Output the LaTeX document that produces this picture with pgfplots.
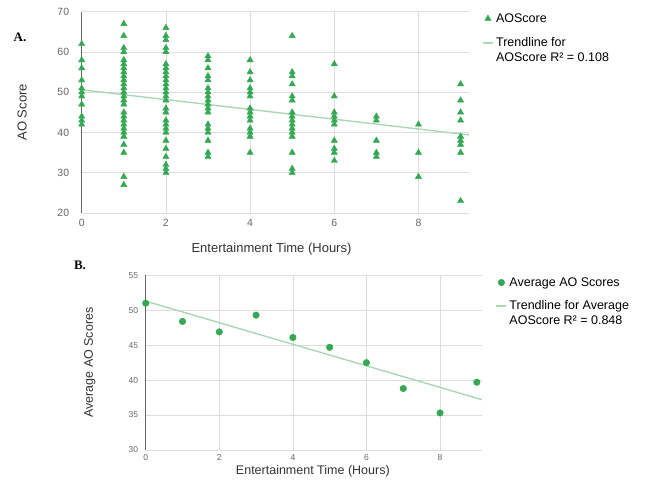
\documentclass[border=0pt]{standalone}
\usepackage{pgfplots}
\pgfplotsset{compat=1.18}
\usepackage{fontspec}
\setmainfont{Liberation Sans}
\newfontfamily\timesfont{Liberation Serif}
\definecolor{gmark}{HTML}{34A853}
\definecolor{gtrend}{HTML}{A9D8B2}
\definecolor{ggrid}{HTML}{DDDDDD}
\definecolor{gtick}{HTML}{666666}
\definecolor{gtitle}{HTML}{333333}
\pgfplotsset{
  markleg/.style={legend image code/.code={\draw[##1] plot coordinates {(5pt,0pt)};}},
  trendleg/.style={legend image code/.code={\draw[gtrend, line width=2.2pt] (0pt,7.5pt) -- (10pt,7.5pt);}},
}
\begin{document}
\begin{tikzpicture}
\useasboundingbox (0pt,0pt) rectangle (649pt,490pt);
% Panel A
\begin{axis}[
  at={(81.7pt,277pt)}, anchor=origin,
  scale only axis, width=387.3pt, height=201.3pt,
  xmin=0, xmax=9.2, ymin=20, ymax=70,
  xtick={0,2,4,6,8}, ytick={20,30,...,70},
  grid=major, major grid style={ggrid, line width=0.6pt},
  axis lines*=left,
  x axis line style={ggrid, line width=0.8pt},
  y axis line style={gtick, line width=0.9pt},
  tick style={draw=none},
  /pgf/number format/assume math mode=true,
  ticklabel style={font=\fontsize{10.5}{12}\selectfont, text=gtick},
  yticklabel style={xshift=-9pt},
  xticklabel style={yshift=-3pt},
  xlabel={Entertainment Time (Hours)},
  ylabel={AO Score},
  xlabel style={at={(axis description cs:0.49,-0.18)}, anchor=center, font=\fontsize{13}{15}\selectfont, text=gtitle},
  ylabel style={at={(axis description cs:-0.154,0.5)}, anchor=center, font=\fontsize{13}{15}\selectfont, text=gtitle},
  legend style={at={(axis description cs:1.025,1.012)}, anchor=north west, draw=none, fill=none,
    font=\fontsize{12.5}{15}\selectfont, cells={align=left, anchor=west}, row sep=10pt},
  legend cell align=left,
  clip=false,
]
\addplot[only marks, mark=triangle*, mark size=3.6pt, gmark, mark options={fill=gmark, draw=gmark}, markleg] coordinates {
(0,62)(0,58)(0,56)(0,53)(0,51)(0,50)(0,49)(0,47)(0,44)(0,43)(0,42)
(1,67)(1,64)(1,61)(1,60)(1,58)(1,57)(1,56)(1,55)(1,54)(1,53)(1,52)(1,51)(1,50)(1,49)(1,48)(1,47)(1,45)(1,44)(1,43)(1,42)(1,41)(1,40)(1,39)(1,37)(1,35)(1,29)(1,27)
(2,66)(2,64)(2,63)(2,61)(2,60)(2,57)(2,56)(2,55)(2,54)(2,53)(2,52)(2,51)(2,50)(2,49)(2,48)(2,46)(2,45)(2,43)(2,42)(2,41)(2,40)(2,38)(2,36)(2,34)(2,32)(2,31)(2,30)
(3,59)(3,58)(3,56)(3,54)(3,53)(3,51)(3,50)(3,49)(3,48)(3,47)(3,46)(3,45)(3,42)(3,41)(3,40)(3,38)(3,35)(3,34)
(4,58)(4,55)(4,53)(4,51)(4,50)(4,49)(4,46)(4,45)(4,44)(4,43)(4,41)(4,40)(4,39)(4,35)
(5,64)(5,55)(5,54)(5,52)(5,49)(5,48)(5,45)(5,44)(5,43)(5,42)(5,41)(5,40)(5,39)(5,35)(5,31)(5,30)
(6,57)(6,49)(6,45)(6,44)(6,43)(6,42)(6,38)(6,36)(6,35)(6,33)
(7,44)(7,43)(7,38)(7,35)(7,34)
(8,42)(8,35)(8,29)
(9,52)(9,48)(9,45)(9,43)(9,39)(9,38)(9,37)(9,35)(9,23)
};
\addlegendentry{AOScore}
\addplot[gtrend, line width=1.4pt, no marks, trendleg] coordinates {(0,50.6) (9.2,39.4)};
\addlegendentry{Trendline for\\AOScore R² = 0.108}
\end{axis}
% Panel B
\begin{axis}[
  at={(145.7pt,40pt)}, anchor=origin,
  scale only axis, width=336.3pt, height=174.7pt,
  xmin=0, xmax=9.14, ymin=30, ymax=55,
  xtick={0,2,4,6,8}, ytick={30,35,...,55},
  grid=major, major grid style={ggrid, line width=0.6pt},
  axis lines*=left,
  x axis line style={ggrid, line width=0.8pt},
  y axis line style={gtick, line width=0.9pt},
  tick style={draw=none},
  /pgf/number format/assume math mode=true,
  ticklabel style={font=\fontsize{8.5}{10}\selectfont, text=gtick},
  yticklabel style={xshift=-4pt},
  xticklabel style={yshift=-1pt},
  xlabel={Entertainment Time (Hours)},
  ylabel={Average AO Scores},
  xlabel style={at={(axis description cs:0.497,-0.12)}, anchor=center, font=\fontsize{12.5}{14}\selectfont, text=gtitle},
  ylabel style={at={(axis description cs:-0.166,0.5)}, anchor=center, font=\fontsize{12.5}{14}\selectfont, text=gtitle},
  legend style={at={(axis description cs:1.03,1.012)}, anchor=north west, draw=none, fill=none,
    font=\fontsize{12.5}{15}\selectfont, cells={align=left, anchor=west}, row sep=9pt},
  legend cell align=left,
  clip=false,
]
\addplot[only marks, mark=*, mark size=3.3pt, gmark, mark options={fill=gmark, draw=gmark}, markleg] coordinates {
(0,51.0)(1,48.4)(2,46.9)(3,49.3)(4,46.1)(5,44.7)(6,42.5)(7,38.8)(8,35.3)(9,39.7)
};
\addlegendentry{Average AO Scores}
\addplot[gtrend, line width=1.4pt, no marks, trendleg] coordinates {(0,51.3) (9.14,37.2)};
\addlegendentry{Trendline for Average\\AOScore R² = 0.848}
\end{axis}
\node[font=\timesfont\bfseries\fontsize{13}{15}\selectfont, anchor=center] at (20pt,453pt) {A.};
\node[font=\timesfont\bfseries\fontsize{13}{15}\selectfont, anchor=center] at (80pt,225pt) {B.};
\end{tikzpicture}
\end{document}
